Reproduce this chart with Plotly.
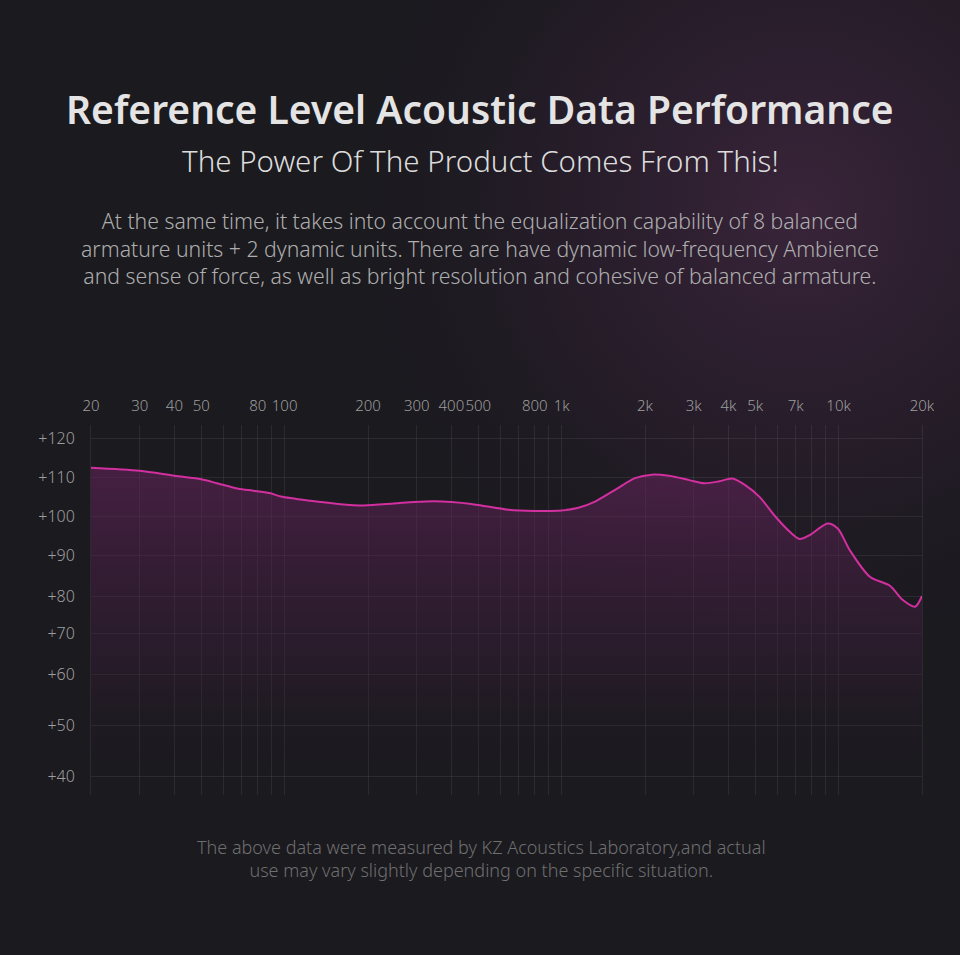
import base64
import numpy as np
import plotly.graph_objects as go

# frequency response (Hz, dB)
freq_hz = [20, 30, 40, 50, 57, 68, 77, 88, 97, 124, 156, 193, 248, 294, 347, 400,
           472, 513, 643, 798, 1000, 1150, 1320, 1560, 1840, 2120, 2440, 2890, 3270,
           3710, 4130, 4600, 5180, 5920, 6650, 7230, 7860, 9130, 9930, 10960, 12970,
           15320, 17060, 18870, 20000]
spl_db = [112.4, 111.6, 110.3, 109.4, 108.4, 107.0, 106.5, 105.9, 105.0, 103.9, 103.1,
          102.7, 103.2, 103.6, 103.8, 103.6, 103.1, 102.7, 101.6, 101.3, 101.4, 102.1,
          103.7, 106.7, 109.7, 110.6, 110.3, 109.2, 108.4, 108.9, 109.6, 107.9, 104.9,
          99.8, 96.0, 94.1, 95.1, 98.1, 96.8, 91.3, 84.7, 82.5, 78.9, 77.1, 80.0]

x_tick_vals = [20, 30, 40, 50, 60, 70, 80, 90, 100, 200, 300, 400, 500, 600, 700, 800,
               900, 1000, 2000, 3000, 4000, 5000, 6000, 7000, 8000, 9000, 10000, 20000]
x_tick_text = ["20", "30", "40", "50", "", "", "80", "", "100", "200", "300", "400",
               "500", "", "", "800", "", "1k", "2k", "3k", "4k", "5k", "", "7k", "", "",
               "10k", "20k"]

# the printed dB scale is not uniform: gaps shrink/grow below +80
db_levels = [40, 50, 60, 70, 80, 90, 100, 110, 120]
level_pos = [0, 51, 102, 143, 180, 221, 260, 299, 338]
y_tick_text = ["+%d" % v for v in db_levels]


def warp(db):
    return np.interp(db, db_levels, level_pos)


# plot box in page pixels, used to place the text blocks
PL, PR, PT, PB = 91, 922, 425, 795


def px(x, y):
    return (x - PL) / (PR - PL), (PB - y) / (PB - PT)


BG = "#1b1a1f"
FONT = "Noto Sans"

glow_svg = """<svg xmlns='http://www.w3.org/2000/svg' width='960' height='955'>
<defs><radialGradient id='g' cx='800' cy='210' r='460' gradientUnits='userSpaceOnUse'>
<stop offset='0' stop-color='#472946' stop-opacity='0.7'/>
<stop offset='0.55' stop-color='#38213a' stop-opacity='0.35'/>
<stop offset='1' stop-color='#1b1a1f' stop-opacity='0'/></radialGradient></defs>
<rect width='960' height='955' fill='url(#g)'/></svg>"""
glow_uri = "data:image/svg+xml;base64," + base64.b64encode(glow_svg.encode()).decode()

fig = go.Figure()
fig.add_trace(go.Scatter(
    x=freq_hz, y=warp(spl_db), mode="lines",
    line=dict(color="#d22f9f", width=2, shape="spline", smoothing=0.8),
    fill="tozeroy",
    fillgradient=dict(type="vertical",
                      colorscale=[[0, "rgba(27,26,31,0)"], [0.35, "rgba(60,30,60,0.35)"],
                                  [1, "rgba(105,35,95,0.55)"]]),
    hoverinfo="skip", showlegend=False,
))

grid = "rgba(255,255,255,0.07)"
fig.update_xaxes(
    type="log", range=[np.log10(20), np.log10(20000)], side="top",
    tickvals=x_tick_vals, ticktext=x_tick_text, ticks="", ticklabelstandoff=10,
    tickangle=0,
    showgrid=True, gridcolor=grid, gridwidth=1, zeroline=False, showline=False,
    tickfont=dict(family=FONT, size=15, color="#9d9d9d", weight=300),
)
# the y axis line (mirrored) stands in for the 20 Hz and 20 kHz grid lines
fig.update_yaxes(
    range=[-19, 351], tickvals=level_pos, ticktext=y_tick_text, ticks="",
    ticklabelstandoff=12, showgrid=True, gridcolor=grid, gridwidth=1,
    zeroline=False, showline=True, linecolor=grid, linewidth=1, mirror=True,
    tickfont=dict(family=FONT, size=16, color="#9d9d9d", weight=300),
)

texts = [
    (480, 108, "Reference Level Acoustic Data Performance", 39, "#e4e4e4", 600),
    (480, 160, "The Power Of The Product Comes From This!", 29.5, "#dcdcdc", 300),
    (480, 248, "At the same time, it takes into account the equalization capability of 8 balanced<br>"
               "armature units + 2 dynamic units. There are have dynamic low-frequency Ambience<br>"
               "and sense of force, as well as bright resolution and cohesive of balanced armature.",
     21.2, "#aeaeae", 300),
    (481, 858, "The above data were measured by KZ Acoustics Laboratory,and actual<br>"
               "use may vary slightly depending on the specific situation.", 18, "#6f6f6f", 300),
]
annotations = []
for tx, ty, txt, size, color, weight in texts:
    ax, ay = px(tx, ty)
    annotations.append(dict(
        x=ax, y=ay, xref="paper", yref="paper", text=txt, showarrow=False,
        xanchor="center", yanchor="middle", align="center",
        font=dict(family=FONT, size=size, color=color, weight=weight),
    ))

fig.update_layout(
    width=960, height=955,
    margin=dict(l=PL, r=960 - PR, t=PT, b=955 - PB),
    paper_bgcolor=BG, plot_bgcolor="rgba(0,0,0,0)",
    annotations=annotations,
    images=[dict(source=glow_uri, xref="paper", yref="paper",
                 x=px(0, 0)[0], y=px(0, 0)[1], sizex=960 / (PR - PL), sizey=955 / (PB - PT),
                 xanchor="left", yanchor="top", sizing="stretch", layer="below")],
)

fig.write_html("out.html", config={"displayModeBar": False},
               post_script="document.body.style.margin='0';"
                           "document.body.style.background='%s';" % BG)
